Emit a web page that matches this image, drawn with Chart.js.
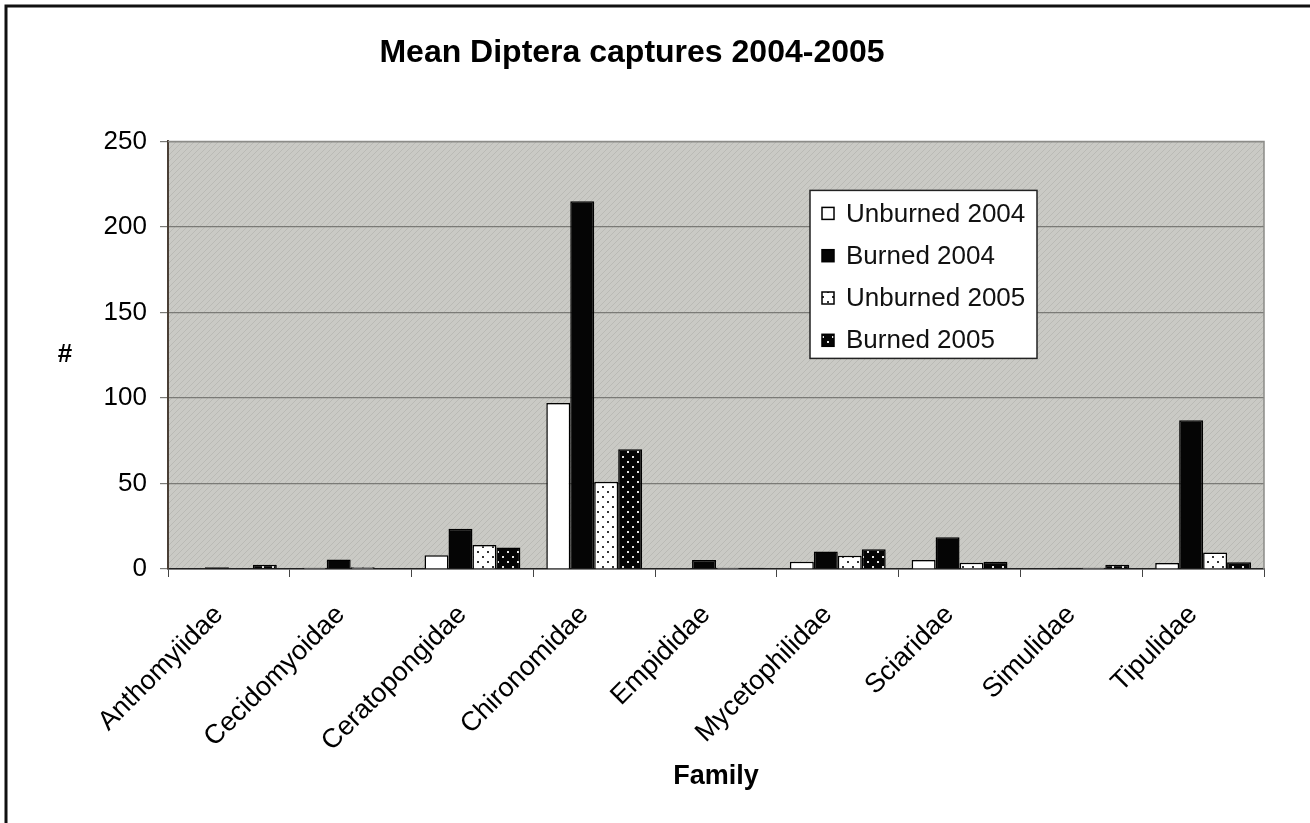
<!DOCTYPE html>
<html lang="en">
<head>
  <meta charset="UTF-8">
  <title>Mean Diptera captures 2004-2005</title>
  <script src="https://cdn.jsdelivr.net/npm/chart.js"></script>
  <style>
    body { margin: 0; background: #fff; }
    #wrap { width: 1310px; height: 823px; }
  </style>
</head>
<body>
  <div id="wrap"><canvas id="dipteraChart" width="1310" height="823"></canvas></div>

  <script>
    // values (mean captures per family)
    const families = ['Anthomyiidae', 'Cecidomyoidae', 'Ceratopongidae', 'Chironomidae', 'Empididae',
                      'Mycetophilidae', 'Sciaridae', 'Simulidae', 'Tipulidae'];
    const unburned2004 = [0, 0.7, 8, 97, 0.5, 4.3, 5.3, 0, 3.5];
    const burned2004 = [1, 5.5, 23.5, 215, 5.3, 10.3, 18.5, 0.8, 87];
    const unburned2005 = [0, 1, 14, 51, 0.7, 7.8, 3.7, 0.8, 9.7];
    const burned2005 = [2.5, 0, 12.5, 70, 0.7, 11.5, 4.3, 2.5, 3.9];
    const yTicks = [0, 50, 100, 150, 200, 250];

    const FONT = "'Liberation Sans', Arial, sans-serif";

    // small dotted fills for the 2005 series
    function dotPattern(bg, dot) {
      const c = document.createElement('canvas');
      c.width = 10; c.height = 10;
      const g = c.getContext('2d');
      g.fillStyle = bg;
      g.fillRect(0, 0, 10, 10);
      g.fillStyle = dot;
      g.fillRect(2, 6, 2, 2);
      g.fillRect(7, 1, 2, 2);
      return g.createPattern(c, 'repeat');
    }

    // grey hatched plot background
    function hatchPattern() {
      const c = document.createElement('canvas');
      c.width = 6; c.height = 6;
      const g = c.getContext('2d');
      g.fillStyle = '#cacac5';
      g.fillRect(0, 0, 6, 6);
      g.strokeStyle = 'rgba(150,150,145,0.3)';
      g.lineWidth = 1;
      g.beginPath();
      g.moveTo(0, 6); g.lineTo(6, 0);
      g.stroke();
      return g.createPattern(c, 'repeat');
    }

    const ctx = document.getElementById('dipteraChart').getContext('2d');
    const plotFill = hatchPattern();

    // frame, plot background and the "#" label
    const decorations = {
      id: 'decorations',
      beforeDraw(chart) {
        const c = chart.ctx;
        const a = chart.chartArea;
        c.save();
        c.fillStyle = '#fff';
        c.fillRect(0, 0, chart.width, chart.height);
        c.fillStyle = plotFill;
        c.fillRect(a.left, a.top, a.right - a.left, a.bottom - a.top);
        c.strokeStyle = '#111';
        c.lineWidth = 3;
        c.beginPath();
        c.moveTo(6, chart.height);
        c.lineTo(6, 6);
        c.lineTo(chart.width, 6);
        c.stroke();
        c.fillStyle = '#000';
        c.font = 'bold 26px ' + FONT;
        c.textAlign = 'center';
        c.textBaseline = 'middle';
        c.fillText('#', 65, (a.top + a.bottom) / 2);
        c.restore();
      },
      afterDraw(chart) {
        const c = chart.ctx;
        const a = chart.chartArea;
        c.save();
        c.strokeStyle = '#8c8c88';
        c.lineWidth = 1.5;
        c.beginPath();
        c.moveTo(a.left, a.top);
        c.lineTo(a.right, a.top);
        c.lineTo(a.right, a.bottom);
        c.stroke();
        c.restore();
      }
    };

    // legend box sitting inside the plot
    const insideLegend = {
      id: 'insideLegend',
      afterDraw(chart) {
        const c = chart.ctx;
        const a = chart.chartArea;
        const x = a.left + 642, y = a.top + 49, w = 227, h = 168;
        c.save();
        c.fillStyle = '#fff';
        c.fillRect(x, y, w, h);
        c.strokeStyle = '#222';
        c.lineWidth = 1.5;
        c.strokeRect(x, y, w, h);
        c.font = '26px ' + FONT;
        c.textBaseline = 'middle';
        chart.data.datasets.forEach((ds, i) => {
          const cy = y + 23 + i * 42.3;
          c.fillStyle = ds.backgroundColor;
          c.fillRect(x + 12, cy - 6, 12, 12);
          c.strokeStyle = '#000';
          c.lineWidth = 1.5;
          c.strokeRect(x + 12, cy - 6, 12, 12);
          c.fillStyle = '#111';
          c.fillText(ds.label, x + 36, cy + 1);
        });
        c.restore();
      }
    };

    new Chart(ctx, {
      type: 'bar',
      data: {
        labels: families,
        datasets: [
          { label: 'Unburned 2004', data: unburned2004, backgroundColor: '#ffffff' },
          { label: 'Burned 2004', data: burned2004, backgroundColor: '#050505' },
          { label: 'Unburned 2005', data: unburned2005, backgroundColor: dotPattern('#ffffff', '#333') },
          { label: 'Burned 2005', data: burned2005, backgroundColor: dotPattern('#050505', '#e8e8e8') }
        ].map(d => Object.assign(d, {
          borderColor: '#000',
          borderWidth: 1.5,
          categoryPercentage: 0.787,
          barPercentage: 1
        }))
      },
      options: {
        responsive: false,
        animation: false,
        layout: { padding: { left: 0, right: 46, top: 0, bottom: 26 } },
        plugins: {
          legend: { display: false },
          tooltip: { enabled: false },
          title: {
            display: true,
            text: 'Mean Diptera captures 2004-2005',
            color: '#000',
            font: { family: FONT, size: 32, weight: 'bold' },
            padding: { top: 34, bottom: 69 }
          }
        },
        scales: {
          x: {
            afterFit(scale) { scale.height = 228; },
            grid: { drawOnChartArea: false, drawTicks: true, tickLength: 8, color: '#444', lineWidth: 1 },
            border: { color: '#222', width: 1.5 },
            ticks: {
              color: '#000',
              font: { family: FONT, size: 27 },
              minRotation: 45,
              maxRotation: 45,
              padding: 22,
              labelOffset: -10,
              autoSkip: false
            },
            title: {
              display: true,
              text: 'Family',
              color: '#000',
              font: { family: FONT, size: 27, weight: 'bold' },
              padding: { top: 4, bottom: 4 }
            }
          },
          y: {
            min: 0,
            max: 250,
            afterFit(scale) { scale.width = 168; },
            afterBuildTicks(scale) { scale.ticks = yTicks.map(v => ({ value: v })); },
            grid: { color: '#7a7a76', lineWidth: 1.2, tickLength: 8, drawTicks: true },
            border: { color: '#4a3f35', width: 2 },
            ticks: {
              color: '#000',
              font: { family: FONT, size: 26 },
              padding: 13
            }
          }
        }
      },
      plugins: [decorations, insideLegend]
    });
  </script>
</body>
</html>
